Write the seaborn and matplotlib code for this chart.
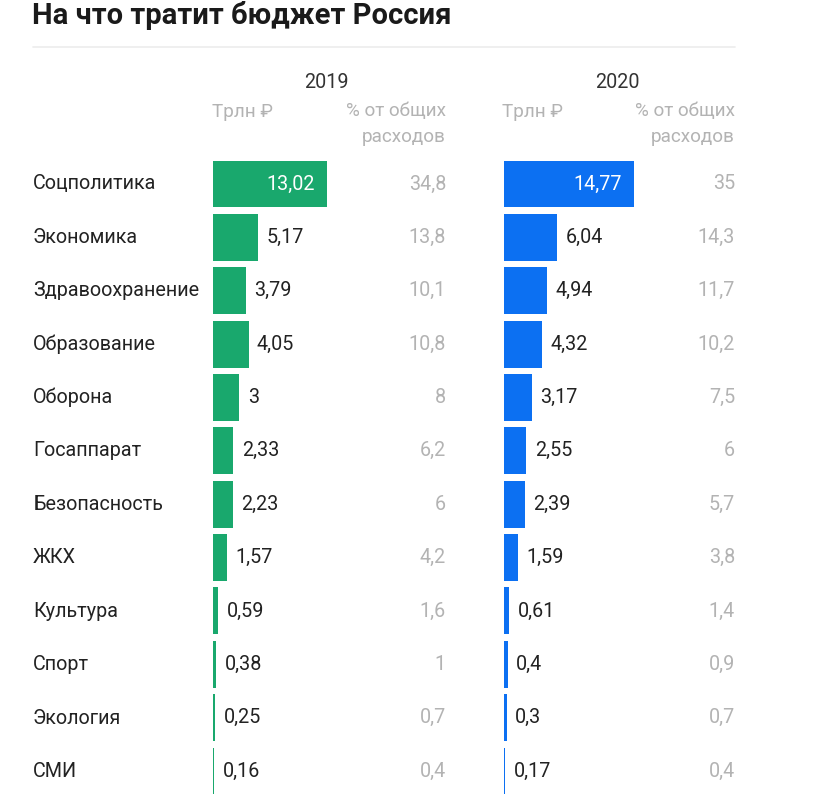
import matplotlib
matplotlib.use("Agg")
import matplotlib.pyplot as plt
import seaborn as sns
import pandas as pd

categories = ["Соцполитика", "Экономика", "Здравоохранение", "Образование", "Оборона",
              "Госаппарат", "Безопасность", "ЖКХ", "Культура", "Спорт", "Экология", "СМИ"]
trln_2019 = [13.02, 5.17, 3.79, 4.05, 3, 2.33, 2.23, 1.57, 0.59, 0.38, 0.25, 0.16]
pct_2019 = [34.8, 13.8, 10.1, 10.8, 8, 6.2, 6, 4.2, 1.6, 1, 0.7, 0.4]
trln_2020 = [14.77, 6.04, 4.94, 4.32, 3.17, 2.55, 2.39, 1.59, 0.61, 0.4, 0.3, 0.17]
pct_2020 = [35, 14.3, 11.7, 10.2, 7.5, 6, 5.7, 3.8, 1.4, 0.9, 0.7, 0.4]
years = ["2019", "2020"]
title = "На что тратит бюджет Россия"
unit_label = "Трлн ₽"
pct_label = "% от общих\nрасходов"

sns.set_theme(style="white")
plt.rcParams["font.family"] = ["Roboto", "DejaVu Sans"]

W, H = 817, 798
fig = plt.figure(figsize=(W / 100, H / 100), dpi=100)
fig.patch.set_facecolor("white")

def fx(px):
    return px / W

def fy(py):
    return 1 - py / H

px_per_unit = 8.77
top_px, bot_px = 157.3, 797.7
FS = 14.2

def make_ax(left_px, right_px):
    ax = fig.add_axes([fx(left_px), fy(bot_px), (right_px - left_px) / W, (bot_px - top_px) / H])
    return ax

def fmt(v):
    return f"{v:g}".replace(".", ",")

panels = [
    (213, 452, trln_2019, pct_2019, "#19a86d", 446),
    (504, 741, trln_2020, pct_2020, "#0c70f2", 735),
]

for (lpx, rpx, vals, pcts, color, pct_right_px) in panels:
    ax = make_ax(lpx, rpx)
    df = pd.DataFrame({"cat": categories, "val": vals})
    sns.barplot(data=df, y="cat", x="val", color=color, orient="h", width=0.88,
                saturation=1, ax=ax, edgecolor="none")
    ax.set_xlim(0, (rpx - lpx) / px_per_unit)
    ax.set_ylim(len(categories) - 0.5, -0.5)
    ax.axis("off")
    pct_x = (pct_right_px - lpx) / px_per_unit
    for i, (v, p) in enumerate(zip(vals, pcts)):
        if v > 10:
            ax.text(v - 1.35, i, fmt(v), ha="right", va="center", color="white", fontsize=FS)
        else:
            ax.text(v + 0.95, i, fmt(v), ha="left", va="center", color="#222222", fontsize=FS)
        ax.text(pct_x, i, fmt(p), ha="right", va="center", color="#b3b3b3", fontsize=FS)

# Category labels
for i, c in enumerate(categories):
    yc = 184 + i * 53.4
    fig.text(fx(33), fy(yc), c, ha="left", va="center", color="#222222", fontsize=FS)

# Title and rule
fig.text(fx(32), fy(15), title, ha="left", va="center", fontsize=21, fontweight="bold", color="#1a1a1a")
fig.add_artist(plt.Line2D([fx(33), fx(735)], [fy(47), fy(47)], color="#ececec", lw=1.2))

# Column headers
for (yr, cx, ulx, prx) in [("2019", 326, 212, 446), ("2020", 617, 502, 735)]:
    fig.text(fx(cx), fy(82), yr, ha="center", va="center", fontsize=FS, color="#333333")
    fig.text(fx(ulx), fy(112), unit_label, ha="left", va="center", fontsize=FS - 0.6, color="#b3b3b3")
    fig.text(fx(prx), fy(124), pct_label, ha="right", va="center", fontsize=FS - 0.6,
             color="#b3b3b3", linespacing=1.55, multialignment="right")

fig.savefig("out.png", dpi=100, facecolor="white")
